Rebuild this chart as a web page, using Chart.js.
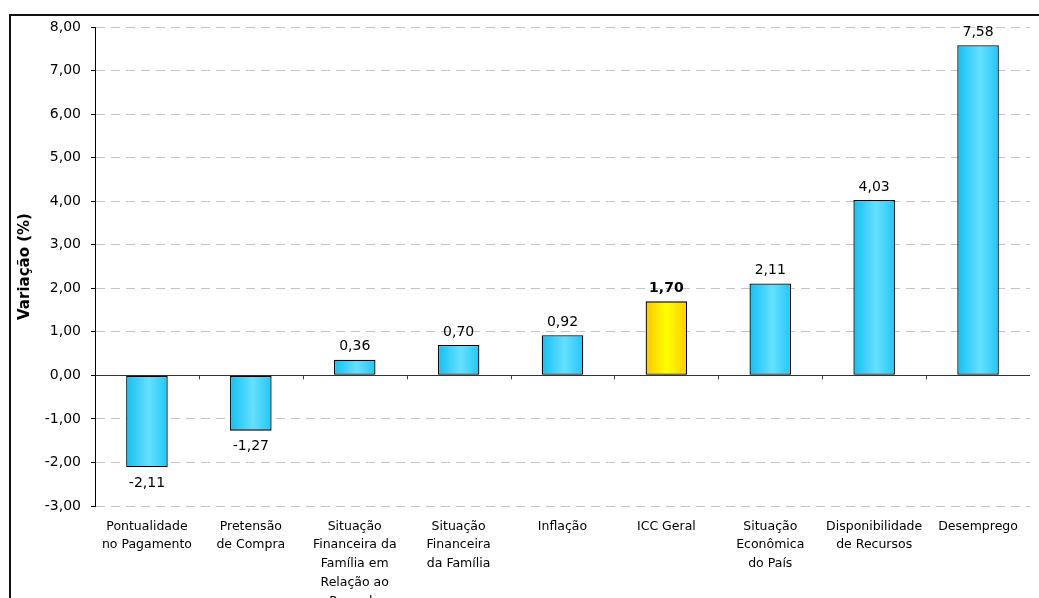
<!DOCTYPE html>
<html>
<head>
<meta charset="utf-8">
<script src="https://cdn.jsdelivr.net/npm/chart.js@4.4.1/dist/chart.umd.min.js"></script>
<style>
  html, body { margin: 0; padding: 0; background: #fff; }
  #wrap { position: relative; width: 1039px; height: 598px; overflow: hidden; }
  #frame { position: absolute; left: 9px; top: 14px; width: 1100px; height: 700px;
           border-top: 2px solid #111; border-left: 2px solid #111; }
  canvas { position: absolute; left: 0; top: 0; }
</style>
</head>
<body>
<div id="wrap">
  <div id="frame"></div>
  <canvas id="chart" width="1039" height="598"></canvas>
</div>
<script>
// categories (multi-line labels as they appear under the axis)
const categories = [
  ["Pontualidade", "no Pagamento"],
  ["Pretensão", "de Compra"],
  ["Situação", "Financeira da", "Família em", "Relação ao", "Passado"],
  ["Situação", "Financeira", "da Família"],
  ["Inflação"],
  ["ICC Geral"],
  ["Situação", "Econômica", "do País"],
  ["Disponibilidade", "de Recursos"],
  ["Desemprego"]
];
const variacao = [-2.11, -1.27, 0.36, 0.70, 0.92, 1.70, 2.11, 4.03, 7.58];
const highlightIndex = 5; // ICC Geral

const fmt = (v) => v.toFixed(2).replace(".", ",");

// builds the horizontal gradient for each bar from the scale position
function barGradient(context) {
  const chart = context.chart;
  const xScale = chart.scales.x;
  if (!xScale || !chart.chartArea) return "#2ccdf8";
  const i = context.dataIndex;
  const cx = xScale.getPixelForValue(i);
  const half = (xScale.width / categories.length) * 0.4 / 2;
  const g = chart.ctx.createLinearGradient(cx - half, 0, cx + half, 0);
  if (i === highlightIndex) {
    g.addColorStop(0, "#ffc600");
    g.addColorStop(0.5, "#ffff00");
    g.addColorStop(1, "#ffcc00");
  } else {
    g.addColorStop(0, "#12c0f2");
    g.addColorStop(0.55, "#66e0ff");
    g.addColorStop(1, "#20c7f5");
  }
  return g;
}

// value labels above / below bars
const valueLabels = {
  id: "valueLabels",
  afterDatasetsDraw(chart) {
    const ctx = chart.ctx;
    const meta = chart.getDatasetMeta(0);
    ctx.save();
    ctx.fillStyle = "#000";
    ctx.textAlign = "center";
    ctx.textBaseline = "middle";
    meta.data.forEach((bar, i) => {
      const v = variacao[i];
      ctx.font = (i === highlightIndex ? "bold " : "") + "14px 'DejaVu Sans'";
      const y = v >= 0 ? bar.y - 13 : bar.y + 16;
      ctx.fillText(fmt(v), bar.x, y);
    });
    ctx.restore();
  }
};

// small tick marks under the zero line at category boundaries
const zeroTicks = {
  id: "zeroTicks",
  afterDatasetsDraw(chart) {
    const ctx = chart.ctx;
    const x = chart.scales.x;
    const y0 = chart.scales.y.getPixelForValue(0);
    const step = x.width / categories.length;
    ctx.save();
    ctx.strokeStyle = "#444";
    ctx.lineWidth = 1;
    ctx.beginPath();
    for (let i = 1; i < categories.length; i++) {
      const px = Math.round(x.left + step * i) + 0.5;
      ctx.moveTo(px, y0);
      ctx.lineTo(px, y0 + 4);
    }
    ctx.stroke();
    ctx.restore();
  }
};

new Chart(document.getElementById("chart"), {
  type: "bar",
  data: {
    labels: categories,
    datasets: [{
      data: variacao,
      backgroundColor: barGradient,
      borderColor: "#000",
      borderWidth: 1.3,
      borderSkipped: false,
      categoryPercentage: 1,
      barPercentage: 0.4
    }]
  },
  options: {
    responsive: false,
    animation: false,
    layout: { padding: { top: 27, right: 9, left: 0, bottom: 0 } },
    plugins: {
      legend: { display: false },
      tooltip: { enabled: false }
    },
    scales: {
      x: {
        grid: { display: false, drawTicks: false },
        border: { display: false },
        ticks: {
          color: "#000",
          font: { family: "DejaVu Sans", size: 12.5, lineHeight: 1.5 },
          maxRotation: 0,
          autoSkip: false,
          padding: 11
        },
        afterFit: (s) => { s.height = 92; }
      },
      y: {
        min: -3,
        max: 8,
        ticks: {
          stepSize: 1,
          color: "#000",
          font: { family: "DejaVu Sans", size: 14 },
          padding: 10,
          callback: (v) => fmt(v)
        },
        grid: {
          color: (c) => (c.tick && c.tick.value === 0 ? "#333" : "#c4c4c4"),
          tickColor: "#000",
          tickBorderDash: [],
          tickLength: 4
        },
        border: {
          display: true,
          color: "#000",
          width: 1,
          dash: (c) => (c.tick && c.tick.value === 0 ? [] : [9, 6])
        },
        title: {
          display: true,
          text: "Variação (%)",
          color: "#000",
          font: { family: "DejaVu Sans", size: 15, weight: "bold" },
          padding: { top: 16, bottom: 0 }
        },
        afterFit: (s) => { s.width = 95; }
      }
    }
  },
  plugins: [valueLabels, zeroTicks]
});
</script>
</body>
</html>
